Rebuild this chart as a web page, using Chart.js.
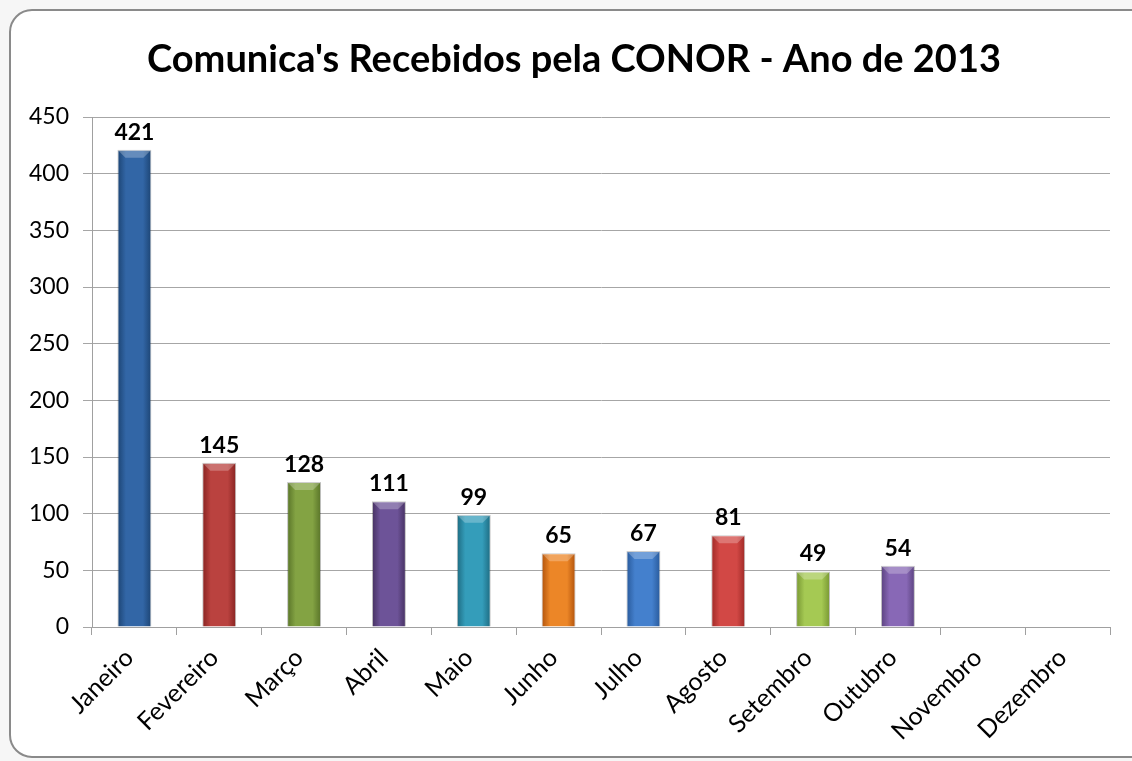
<!DOCTYPE html>
<html>
<head>
<meta charset="utf-8">
<script src="https://cdn.jsdelivr.net/npm/chart.js@4"></script>
<style>
  html, body { margin: 0; padding: 0; background: #fff; }
  #wrap { width: 1132px; height: 761px; position: relative; }
</style>
</head>
<body>
<div id="wrap"><canvas id="myChart"></canvas></div>
<script>
const months = ['Janeiro', 'Fevereiro', 'Março', 'Abril', 'Maio', 'Junho',
  'Julho', 'Agosto', 'Setembro', 'Outubro', 'Novembro', 'Dezembro'];
const received = [421, 145, 128, 111, 99, 65, 67, 81, 49, 54, null, null];
const yTicks = [0, 50, 100, 150, 200, 250, 300, 350, 400, 450];
const titleText = "Comunica's Recebidos pela CONOR - Ano de 2013";

// bar colours: [edge, middle]
const barColors = [
  ['#1c4473', '#3266a6'], ['#862220', '#ba423f'], ['#587328', '#83a343'],
  ['#453060', '#6d5398'], ['#1d6a80', '#349dba'], ['#b0520b', '#ec8627'],
  ['#28599a', '#4480cd'], ['#9e2926', '#d24845'], ['#779632', '#a5c953'],
  ['#5a427e', '#8868b6'], ['#777', '#999'], ['#777', '#999']
];

const BAR_PCT = 0.4;

function barFill(ctx) {
  const chart = ctx.chart;
  const c = barColors[ctx.dataIndex] || ['#555', '#888'];
  const xs = chart.scales.x;
  if (!xs || !chart.chartArea) return c[1];
  const cx = xs.getPixelForValue(ctx.dataIndex);
  const w = (xs.width / months.length) * BAR_PCT;
  const g = chart.ctx.createLinearGradient(cx - w / 2, 0, cx + w / 2, 0);
  g.addColorStop(0, c[0]);
  g.addColorStop(0.25, c[1]);
  g.addColorStop(0.75, c[1]);
  g.addColorStop(1, c[0]);
  return g;
}

// rounded frame + title (title drawn here so it can sit off-centre like the original)
const frame = {
  id: 'frame',
  beforeDraw(chart) {
    const g = chart.ctx;
    g.save();
    g.fillStyle = '#f6f6f6';
    g.fillRect(0, 0, chart.width, chart.height);
    g.beginPath();
    g.roundRect(10, 10, 1150, 747, 22);
    g.fillStyle = '#fff';
    g.fill();
    g.lineWidth = 2;
    g.strokeStyle = '#8a8a8a';
    g.stroke();
    g.font = 'bold 38px Lato';
    g.fillStyle = '#000';
    g.textAlign = 'center';
    g.textBaseline = 'middle';
    g.fillText(titleText, 574, 60);
    g.restore();
  }
};

const valueLabels = {
  id: 'valueLabels',
  afterDatasetsDraw(chart) {
    const g = chart.ctx;
    const meta = chart.getDatasetMeta(0);
    g.save();
    g.font = 'bold 23px Lato';
    g.textAlign = 'center';
    g.textBaseline = 'bottom';
    meta.data.forEach((bar, i) => {
      const v = received[i];
      if (v == null) return;
      // light bevel on top of the bar
      const w = bar.width;
      g.fillStyle = 'rgba(255,255,255,0.25)';
      g.beginPath();
      g.moveTo(bar.x - w / 2, bar.y);
      g.lineTo(bar.x + w / 2, bar.y);
      g.lineTo(bar.x + w / 2 - 8, bar.y + 8);
      g.lineTo(bar.x - w / 2 + 8, bar.y + 8);
      g.closePath();
      g.fill();
      g.fillStyle = '#000';
      g.fillText(String(v), bar.x, bar.y - 6);
    });
    g.restore();
  }
};

new Chart(document.getElementById('myChart'), {
  type: 'bar',
  data: {
    labels: months,
    datasets: [{
      data: received,
      backgroundColor: barFill,
      borderColor: 'rgba(0,0,0,0.25)',
      borderWidth: 1,
      barPercentage: BAR_PCT,
      categoryPercentage: 1
    }]
  },
  plugins: [frame, valueLabels],
  options: {
    responsive: true,
    maintainAspectRatio: false,
    animation: false,
    layout: { padding: { left: 0, right: 22, top: 117, bottom: 4 } },
    plugins: {
      legend: { display: false },
      tooltip: { enabled: false },
      title: { display: false }
    },
    scales: {
      x: {
        offset: true,
        grid: { offset: true, drawOnChartArea: false, drawTicks: true, tickLength: 8, color: '#a0a0a0' },
        border: { color: '#a0a0a0', width: 1 },
        ticks: {
          color: '#000',
          font: { family: 'Lato', size: 25 },
          minRotation: 45, maxRotation: 45,
          padding: 8,
          labelOffset: -5
        },
        afterFit(s) { s.height = 130; }
      },
      y: {
        min: 0, max: 450,
        afterBuildTicks(s) { s.ticks = yTicks.map(v => ({ value: v })); },
        grid: { color: '#a6a6a6', tickLength: 9 },
        border: { color: '#a0a0a0', width: 1 },
        ticks: {
          color: '#000',
          font: { family: 'Lato', size: 23 },
          padding: 14
        },
        afterFit(s) { s.width = 92; }
      }
    }
  }
});
</script>
</body>
</html>
